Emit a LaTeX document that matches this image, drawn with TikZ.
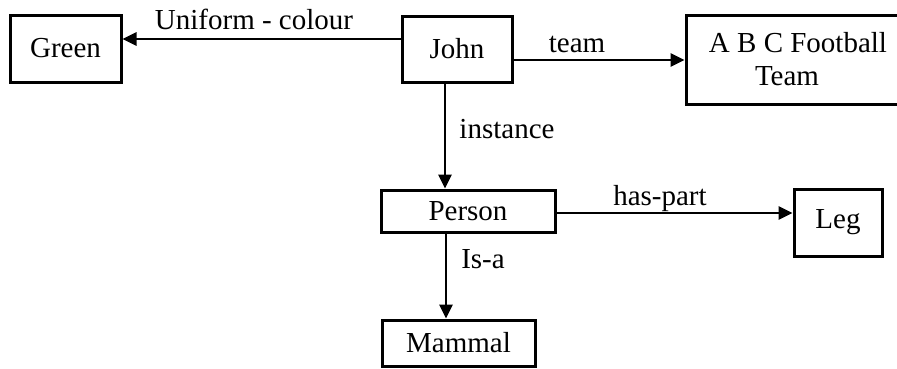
\documentclass[tikz,border=0pt]{standalone}
\usepackage{fontspec}
\setmainfont{Liberation Serif}
\usetikzlibrary{arrows.meta}
\begin{document}
\begin{tikzpicture}[x=1pt,y=1pt,
  font=\fontsize{29}{33}\selectfont,
  box/.style={draw, line width=3pt, inner sep=0pt, align=center},
  arr/.style={line width=2.8pt, -{Triangle[length=14pt,width=13pt]}},
  lbl/.style={anchor=base, inner sep=0pt}]
\useasboundingbox (0,0) rectangle (897,368);

% concept boxes
\node[box, minimum width=111pt, minimum height=67pt] (green) at (65.5,319.5) {Green};
\node[box, minimum width=110pt, minimum height=66pt] (john) at (457,319) {John};
\node[box, minimum width=224pt, minimum height=89pt] (abc) at (798,308.5)
  {A B C Football\\Team\hspace*{22pt}};
\node[box, minimum width=174pt, minimum height=42pt] (person) at (468,157) {Person};
\node[box, minimum width=88pt, minimum height=67pt] (leg) at (838,145.5) {Leg};
\node[box, minimum width=153pt, minimum height=46pt] (mammal) at (458.5,25) {Mammal};

% relations
\coordinate (jw) at ([yshift=10pt]john.west);
\draw[arr] (jw) -- (jw -| green.east);
\coordinate (je) at ([yshift=-11pt]john.east);
\draw[arr] (je) -- (je -| abc.west);
\coordinate (js) at ([xshift=-12pt]john.south);
\draw[arr] (js) -- (js |- person.north);
\coordinate (pe) at ([yshift=-2pt]person.east);
\draw[arr] (pe) -- (pe -| leg.west);
\coordinate (ps) at ([xshift=-22pt]person.south);
\draw[arr] (ps) -- (ps |- mammal.north);

% relation labels
\node[lbl] (l1) at (254,339) {Uniform - colour};
\node[lbl] (l2) at (577,316) {team};
\node[lbl] (l3) at (507,230) {instance};
\node[lbl] (l4) at (660,163) {has-part};
\node[lbl] (l5) at (483,100) {Is-a};
\end{tikzpicture}
\end{document}
